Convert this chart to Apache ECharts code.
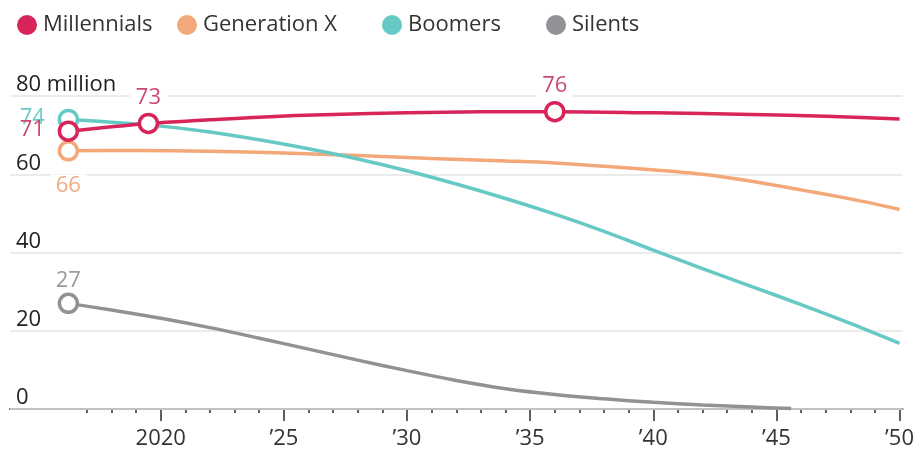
<!DOCTYPE html>
<html>
<head>
<meta charset="utf-8">
<script src="https://cdn.jsdelivr.net/npm/echarts@6/dist/echarts.min.js"></script>
<style>
  html, body { margin: 0; padding: 0; background: #fff; }
  #chart { width: 917px; height: 450px; }
</style>
</head>
<body>
<div id="chart"></div>
<script>
// Population by generation, millions (projected)
const millYears   = [2016.25, 2019.5, 2022, 2024, 2027, 2030, 2033, 2036, 2040, 2044, 2047, 2050];
const millValues  = [71, 73, 73.9, 74.6, 75.3, 75.7, 75.95, 76, 75.7, 75.3, 74.8, 74.1];

const genxYears   = [2016.25, 2019, 2022, 2025, 2028, 2031, 2034, 2036, 2039, 2042, 2044, 2046, 2048, 2050];
const genxValues  = [66, 66.1, 65.9, 65.4, 64.8, 64.0, 63.4, 62.9, 61.6, 60.0, 58.2, 56.0, 53.7, 51.0];

const boomYears   = [2016.25, 2018, 2020, 2022, 2024, 2026, 2028, 2030, 2032, 2034, 2036, 2038, 2040, 2042, 2044, 2046, 2048, 2050];
const boomValues  = [74, 73.3, 72.3, 70.8, 68.8, 66.5, 63.9, 60.9, 57.5, 53.8, 49.8, 45.4, 40.6, 35.9, 31.3, 26.7, 21.9, 16.8];

const silYears    = [2016.25, 2018, 2020, 2022, 2024, 2026, 2028, 2030, 2032, 2034, 2036, 2038, 2040, 2042, 2044, 2045.6];
const silValues   = [27, 25.3, 23.2, 20.8, 18.1, 15.3, 12.5, 9.8, 7.3, 5.2, 3.7, 2.6, 1.7, 1.0, 0.5, 0.1];

const seriesNames = ['Millennials', 'Generation X', 'Boomers', 'Silents'];
const yTicks      = [0, 20, 40, 60, 80];
const xMajorTicks = [2020, 2025, 2030, 2035, 2040, 2045, 2050];
const xTickLabels = ['2020', '\u201925', '\u201930', '\u201935', '\u201940', '\u201945', '\u201950'];
const xMinorTicks = [2017, 2018, 2019, 2021, 2022, 2023, 2024, 2026, 2027, 2028, 2029, 2031, 2032, 2033, 2034,
                     2036, 2037, 2038, 2039, 2041, 2042, 2043, 2044, 2046, 2047, 2048, 2049];

// Highlighted points: [series index, year, label side]; the value comes from the series arrays
const callouts = [
  [2, 2016.25, 'left'],
  [1, 2016.25, 'bottom'],
  [3, 2016.25, 'top'],
  [0, 2016.25, 'left'],
  [0, 2019.5, 'top'],
  [0, 2036, 'top']
];

const colors      = ['#d7255a', '#f2a878', '#66c9c4', '#929296'];
const labelColors = ['#c94a70', '#f0aa84', '#6cc9c4', '#9a9a9e'];
const FONT = '"Open Sans", sans-serif';
const MARKER = 18;

const allYears  = [millYears, genxYears, boomYears, silYears];
const allValues = [millValues, genxValues, boomValues, silValues];
const zOrder    = [8, 5, 6, 4];

function calloutLabel(side, idx) {
  const base = {
    show: true,
    formatter: p => String(p.value[1]),
    color: labelColors[idx],
    fontFamily: FONT,
    fontSize: 22,
    lineHeight: 22
  };
  if (side === 'left') {
    // placed beside the marker, vertically centred on it
    return Object.assign(base, { position: 'top', distance: 0, offset: [-36, 20] });
  }
  return Object.assign(base, {
    position: side,
    distance: side === 'bottom' ? 13 : 4,
    offset: idx === 3 ? [0, 3] : [0, 0],
    backgroundColor: '#fff',
    padding: [0, 6]
  });
}

const lineSeries = seriesNames.map((name, i) => ({
  name,
  type: 'line',
  data: allYears[i].map((yr, k) => [yr, allValues[i][k]]),
  smooth: 0.35,
  showSymbol: false,
  symbol: 'none',
  lineStyle: { color: colors[i], width: 3.5 },
  itemStyle: { color: colors[i] },
  z: zOrder[i],
  silent: true,
  animation: false
}));

// Hollow circle markers with their value labels, one scatter per callout
const markerSeries = callouts.map(([idx, yr, side]) => {
  const v = allValues[idx][allYears[idx].indexOf(yr)];
  return {
    name: seriesNames[idx],
    type: 'scatter',
    data: [[yr, v]],
    symbol: 'circle',
    symbolSize: MARKER,
    itemStyle: { color: '#fff', borderColor: colors[idx], borderWidth: 3.5, opacity: 1 },
    label: calloutLabel(side, idx),
    z: 10 + zOrder[idx],
    silent: true,
    animation: false
  };
});

const legendLefts = [12, 172, 377, 541];
const legends = seriesNames.map((name, i) => ({
  data: [{ name, itemStyle: { color: colors[i] } }],
  left: legendLefts[i],
  top: 9,
  icon: 'circle',
  itemWidth: 20,
  itemHeight: 20,
  itemGap: 0,
  selectedMode: false,
  textStyle: { fontFamily: FONT, fontSize: 22, color: '#333', padding: [2, 0, 0, 1] }
}));

const chart = echarts.init(document.getElementById('chart'), null, { renderer: 'canvas' });
chart.setOption({
  backgroundColor: '#fff',
  color: colors,
  legend: legends,
  grid: { left: 10, right: 9, top: 96, bottom: 39, containLabel: false },
  xAxis: [
    {
      type: 'value',
      min: 2013.88,
      max: 2050.12,
      axisLine: { show: true, lineStyle: { color: '#5a5f5f', width: 2 } },
      axisTick: { show: true, customValues: xMajorTicks, length: 12, lineStyle: { color: '#5a5f5f', width: 2 } },
      axisLabel: {
        show: true,
        customValues: xMajorTicks,
        formatter: v => xTickLabels[xMajorTicks.indexOf(Math.round(v))],
        fontFamily: FONT, fontSize: 22, color: '#333', margin: 19
      },
      splitLine: { show: false }
    },
    {
      type: 'value',
      position: 'bottom',
      min: 2013.88,
      max: 2050.12,
      axisLine: { show: false },
      axisTick: { show: true, customValues: xMinorTicks, length: 4, lineStyle: { color: '#5a5f5f', width: 2 } },
      axisLabel: { show: false },
      splitLine: { show: false }
    }
  ],
  yAxis: {
    type: 'value',
    min: 0,
    max: 80,
    interval: 20,
    axisLine: { show: false },
    axisTick: { show: false },
    splitLine: { show: true, lineStyle: { color: '#e4e4e4', width: 1.5 } },
    axisLabel: {
      inside: true,
      margin: 6,
      verticalAlign: 'bottom',
      align: 'left',
      fontFamily: FONT,
      fontSize: 22,
      color: '#222',
      formatter: v => (v === yTicks[yTicks.length - 1] ? v + ' million' : String(v))
    },
    z: 1
  },
  series: lineSeries.concat(markerSeries)
});
</script>
</body>
</html>
